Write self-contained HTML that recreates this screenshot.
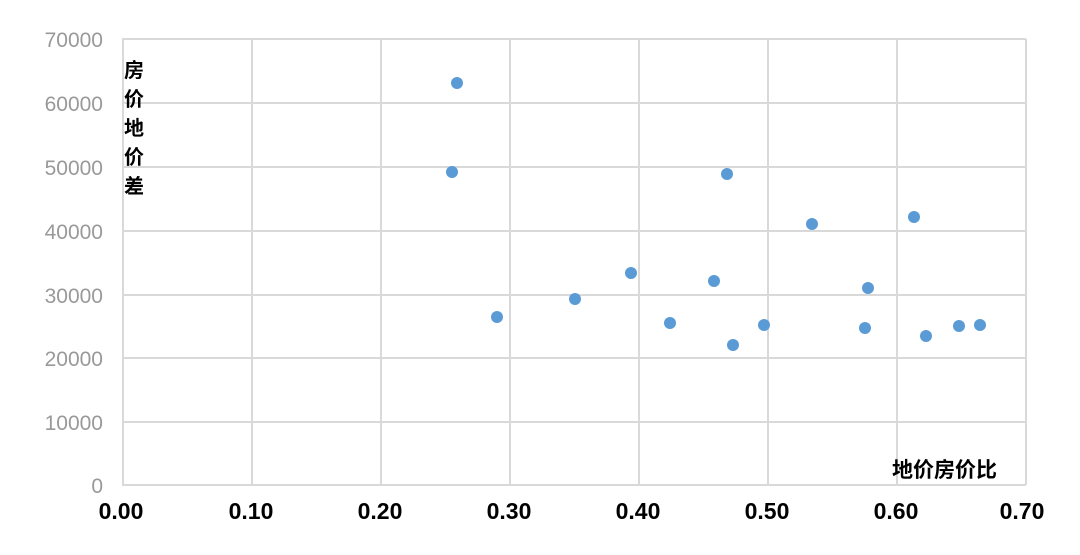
<!DOCTYPE html>
<html><head><meta charset="utf-8"><style>
body{margin:0;background:#fff;}
svg{display:block;}
</style></head><body>
<svg width="1080" height="555" xmlns="http://www.w3.org/2000/svg">
<g stroke="#d9d9d9" stroke-width="2" fill="none">
<line x1="122" y1="39" x2="1026" y2="39"/>
<line x1="122" y1="103" x2="1026" y2="103"/>
<line x1="122" y1="167" x2="1026" y2="167"/>
<line x1="122" y1="231" x2="1026" y2="231"/>
<line x1="122" y1="295" x2="1026" y2="295"/>
<line x1="122" y1="358" x2="1026" y2="358"/>
<line x1="122" y1="422" x2="1026" y2="422"/>
<line x1="122" y1="485" x2="1026" y2="485"/>
<line x1="123" y1="39" x2="123" y2="485"/>
<line x1="252" y1="39" x2="252" y2="485"/>
<line x1="381" y1="39" x2="381" y2="485"/>
<line x1="510" y1="39" x2="510" y2="485"/>
<line x1="639" y1="39" x2="639" y2="485"/>
<line x1="768" y1="39" x2="768" y2="485"/>
<line x1="897" y1="39" x2="897" y2="485"/>
<line x1="1026" y1="39" x2="1026" y2="485"/>
</g>
<g font-family="Liberation Sans, sans-serif" font-size="21" fill="#999" text-anchor="end">
<text x="103" y="47">70000</text>
<text x="103" y="111">60000</text>
<text x="103" y="175">50000</text>
<text x="103" y="239">40000</text>
<text x="103" y="303">30000</text>
<text x="103" y="366">20000</text>
<text x="103" y="430">10000</text>
<text x="103" y="493">0</text>
</g>
<g font-family="Liberation Sans, sans-serif" font-size="23" font-weight="bold" fill="#000" text-anchor="middle">
<text x="121" y="519">0.00</text>
<text x="251" y="519">0.10</text>
<text x="380" y="519">0.20</text>
<text x="509" y="519">0.30</text>
<text x="638" y="519">0.40</text>
<text x="767" y="519">0.50</text>
<text x="896" y="519">0.60</text>
<text x="1022" y="519">0.70</text>
</g>
<g font-family="Liberation Sans, Noto Sans CJK SC, sans-serif" font-size="20" font-weight="bold" fill="#000">
<text x="124" y="77">房</text>
<text x="124" y="106">价</text>
<text x="124" y="135">地</text>
<text x="124" y="164">价</text>
<text x="124" y="193">差</text>
<text x="892" y="477" font-size="21">地价房价比</text>
</g>
<g fill="#5b9bd5">
<circle cx="457" cy="83" r="6"/>
<circle cx="452" cy="172" r="6"/>
<circle cx="497" cy="317" r="6"/>
<circle cx="575" cy="299" r="6"/>
<circle cx="631" cy="273" r="6"/>
<circle cx="670" cy="323" r="6"/>
<circle cx="714" cy="281" r="6"/>
<circle cx="727" cy="174" r="6"/>
<circle cx="733" cy="345" r="6"/>
<circle cx="764" cy="325" r="6"/>
<circle cx="812" cy="224" r="6"/>
<circle cx="865" cy="328" r="6"/>
<circle cx="868" cy="288" r="6"/>
<circle cx="914" cy="217" r="6"/>
<circle cx="926" cy="336" r="6"/>
<circle cx="959" cy="326" r="6"/>
<circle cx="980" cy="325" r="6"/>
</g>
</svg>
</body></html>
